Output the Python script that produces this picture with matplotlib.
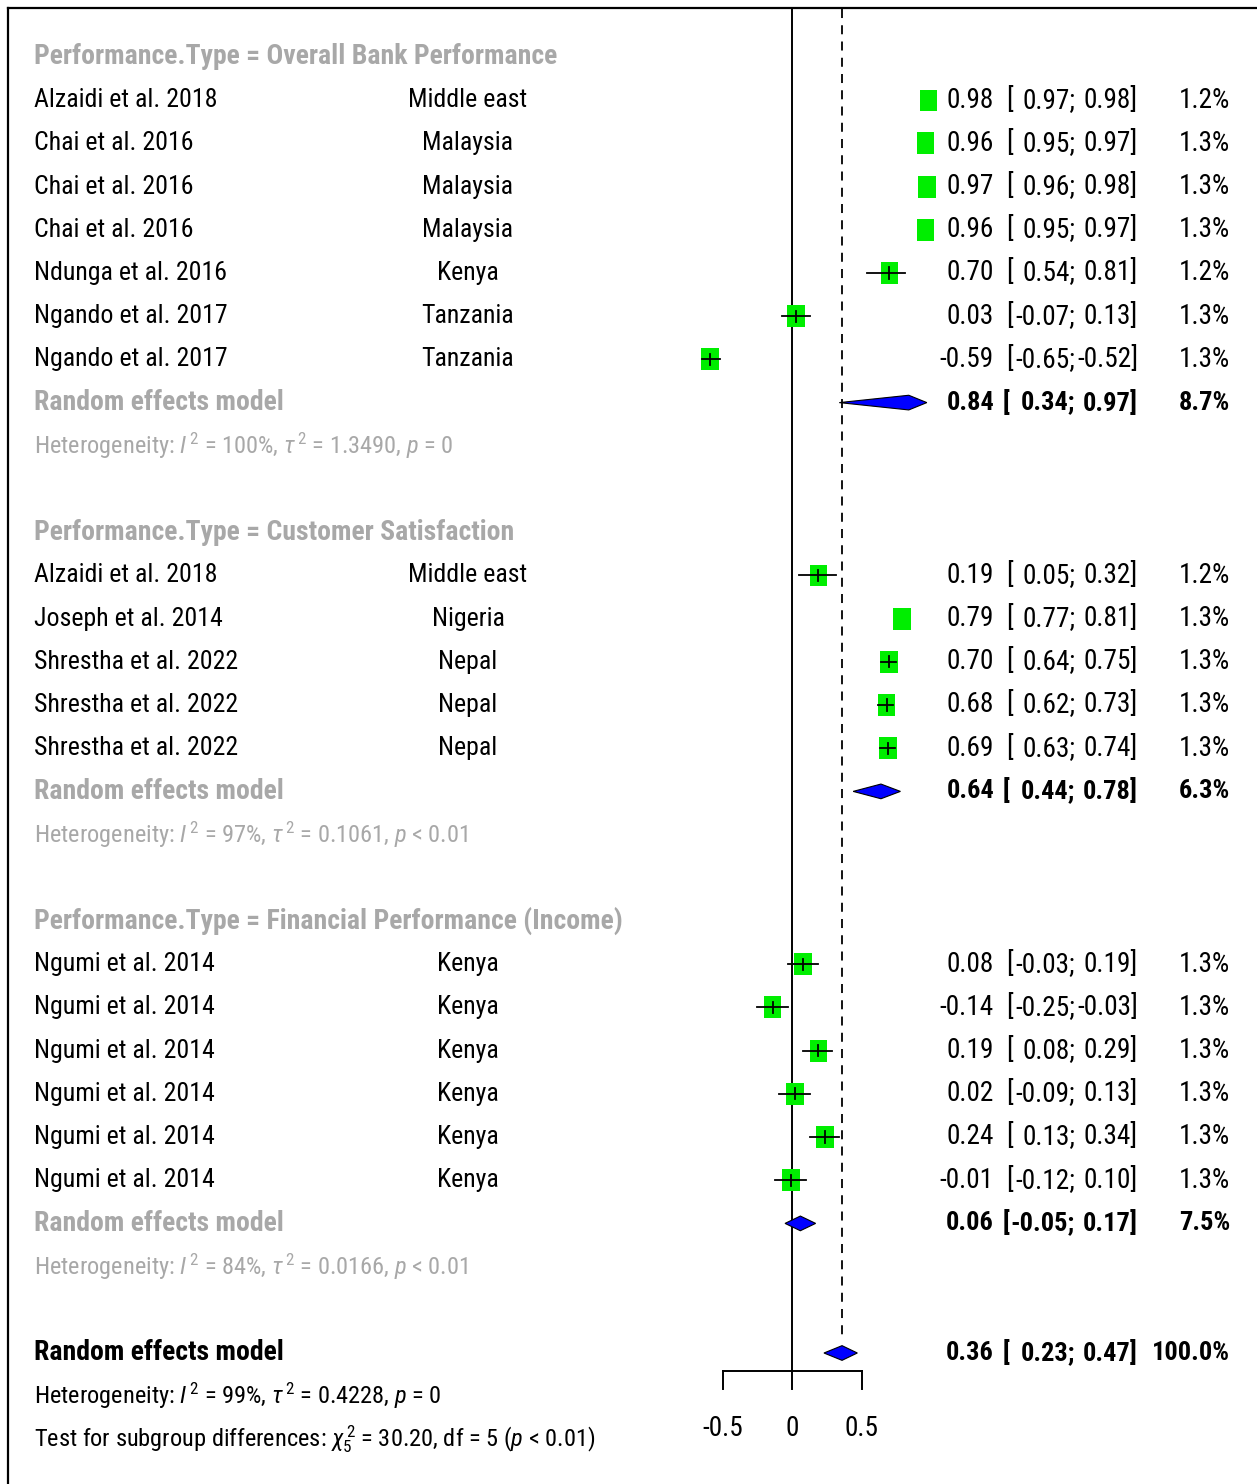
import matplotlib.pyplot as plt
import matplotlib.transforms as mtransforms
from matplotlib import font_manager
from matplotlib.patches import Rectangle, Polygon

# narrow sans for the table text, first one available wins
available = {f.name for f in font_manager.fontManager.ttflist}
narrow = next((f for f in ['Roboto Condensed', 'Archivo Narrow', 'PT Sans Narrow',
                           'Liberation Sans Narrow', 'Liberation Sans'] if f in available), 'DejaVu Sans')
plt.rcParams['font.family'] = [narrow, 'DejaVu Sans']
plt.rcParams['mathtext.fontset'] = 'custom'
plt.rcParams['mathtext.rm'] = narrow
plt.rcParams['mathtext.it'] = narrow + ':italic'
plt.rcParams['mathtext.bf'] = narrow + ':bold'

# subgroup 1: overall bank performance
g1_study = ['Alzaidi et al. 2018', 'Chai et al. 2016', 'Chai et al. 2016', 'Chai et al. 2016',
            'Ndunga et al. 2016', 'Ngando et al. 2017', 'Ngando et al. 2017']
g1_country = ['Middle east', 'Malaysia', 'Malaysia', 'Malaysia', 'Kenya', 'Tanzania', 'Tanzania']
g1_est = [0.98, 0.96, 0.97, 0.96, 0.70, 0.03, -0.59]
g1_lo = [0.97, 0.95, 0.96, 0.95, 0.54, -0.07, -0.65]
g1_hi = [0.98, 0.97, 0.98, 0.97, 0.81, 0.13, -0.52]
g1_w = [1.2, 1.3, 1.3, 1.3, 1.2, 1.3, 1.3]

# subgroup 2: customer satisfaction
g2_study = ['Alzaidi et al. 2018', 'Joseph et al. 2014', 'Shrestha et al. 2022',
            'Shrestha et al. 2022', 'Shrestha et al. 2022']
g2_country = ['Middle east', 'Nigeria', 'Nepal', 'Nepal', 'Nepal']
g2_est = [0.19, 0.79, 0.70, 0.68, 0.69]
g2_lo = [0.05, 0.77, 0.64, 0.62, 0.63]
g2_hi = [0.32, 0.81, 0.75, 0.73, 0.74]
g2_w = [1.2, 1.3, 1.3, 1.3, 1.3]

# subgroup 3: financial performance (income)
g3_study = ['Ngumi et al. 2014'] * 6
g3_country = ['Kenya'] * 6
g3_est = [0.08, -0.14, 0.19, 0.02, 0.24, -0.01]
g3_lo = [-0.03, -0.25, 0.08, -0.09, 0.13, -0.12]
g3_hi = [0.19, -0.03, 0.29, 0.13, 0.34, 0.10]
g3_w = [1.3, 1.3, 1.3, 1.3, 1.3, 1.3]

group_names = ['Overall Bank Performance', 'Customer Satisfaction', 'Financial Performance (Income)']
re_est = [0.84, 0.64, 0.06]
re_lo = [0.34, 0.44, -0.05]
re_hi = [0.97, 0.78, 0.17]
re_w = [8.7, 6.3, 7.5]
het_i2 = ['100%', '97%', '84%']
het_tau2 = ['1.3490', '0.1061', '0.0166']
het_p = ['= 0', '< 0.01', '< 0.01']

overall_est, overall_lo, overall_hi, overall_w = 0.36, 0.23, 0.47, 100.0
overall_het = ('99%', '0.4228', '= 0')
subgroup_test = ('30.20', '5', '< 0.01')
x_ticks = [-0.5, 0, 0.5]

groups = [
    (g1_study, g1_country, g1_est, g1_lo, g1_hi, g1_w),
    (g2_study, g2_country, g2_est, g2_lo, g2_hi, g2_w),
    (g3_study, g3_country, g3_est, g3_lo, g3_hi, g3_w),
]

W, H = 1257, 1484
fig = plt.figure(figsize=(W / 100, H / 100), dpi=100)
ax = fig.add_axes([0, 0, 1, 1])
# effect scale: 0 at x=792 px, 139 px per unit; rows 43.2 px apart starting at y=57 px
x0, scale = 792, 139
y0, step = 57, 43.2
ax.set_xlim(-x0 / scale, (W - x0) / scale)
ax.set_ylim((H - y0) / step, -y0 / step)
ax.axis('off')

tr = mtransforms.blended_transform_factory(ax.transAxes, ax.transData)
GREY = '#a8a8a8'
FS_NAME = 18.6   # study / country labels
FS_NUM = 19.6    # estimate, CI and weight columns
FS_BOLD = 20     # subgroup headings and pooled labels
FS_SMALL = 17.6  # heterogeneity lines


def col(px):
    return px / W


def fmt(v):
    return f'{v:.2f}'


def row_text(y, name, country, est, lo, hi, w, weight='normal'):
    kw = dict(transform=tr, va='center', color='black', fontweight=weight)
    fs = FS_NUM if weight == 'normal' else FS_NUM - 0.6
    bracket_x = 1006 if weight == 'normal' else 1003
    if name:
        ax.text(col(34), y, name, ha='left', fontsize=FS_NAME, **kw)
    if country:
        ax.text(col(468), y, country, ha='center', fontsize=FS_NAME, **kw)
    ax.text(col(994), y, fmt(est), ha='right', fontsize=fs, **kw)
    ax.text(col(bracket_x), y, '[', ha='left', fontsize=fs, **kw)
    ax.text(col(1075), y, fmt(lo) + ';', ha='right', fontsize=fs, **kw)
    ax.text(col(1138), y, fmt(hi) + ']', ha='right', fontsize=fs, **kw)
    ax.text(col(1230), y, f'{w:.1f}%', ha='right', fontsize=fs, **kw)


def diamond(y, est, lo, hi):
    h = 0.17
    ax.add_patch(Polygon([(lo, y), (est, y - h), (hi, y), (est, y + h)],
                         closed=True, facecolor='blue', edgecolor='black', lw=0.8, zorder=4))


def het_text(y, i2, tau2, p, color):
    s = (r'Heterogeneity: $\mathit{I}^{\,2}$ = ' + i2 + r', $\tau^{\,2}$ = ' + tau2
         + r', $\mathit{p}$ ' + p)
    ax.text(col(34), y, s, transform=tr, ha='left', va='center', fontsize=FS_SMALL, color=color)


y = 0
for gi, (study, country, est, lo, hi, w) in enumerate(groups):
    ax.text(col(34), y, 'Performance.Type = ' + group_names[gi], transform=tr, ha='left',
            va='center', fontsize=FS_BOLD, color=GREY, fontweight='bold')
    y += 1
    for k in range(len(study)):
        row_text(y, study[k], country[k], est[k], lo[k], hi[k], w[k])
        sw = 0.128 * (w[k] / 1.3) ** 0.5
        sh = 0.51 * (w[k] / 1.3) ** 0.5
        ax.add_patch(Rectangle((est[k] - sw / 2, y - sh / 2), sw, sh,
                               facecolor='#00ee00', edgecolor='none', zorder=3))
        # CI whisker and centre tick only when the interval sticks out of the square
        if hi[k] - lo[k] > 0.05:
            ax.plot([lo[k], hi[k]], [y, y], color='black', lw=1.3, zorder=5)
            ax.plot([est[k], est[k]], [y - 0.13, y + 0.13], color='black', lw=1.3, zorder=5)
        y += 1
    ax.text(col(34), y, 'Random effects model', transform=tr, ha='left', va='center',
            fontsize=FS_BOLD, color=GREY, fontweight='bold')
    row_text(y, None, None, re_est[gi], re_lo[gi], re_hi[gi], re_w[gi], weight='bold')
    diamond(y, re_est[gi], re_lo[gi], re_hi[gi])
    y += 1
    het_text(y, het_i2[gi], het_tau2[gi], het_p[gi], GREY)
    y += 2

# overall pooled estimate
ax.text(col(34), y, 'Random effects model', transform=tr, ha='left', va='center',
        fontsize=FS_BOLD, color='black', fontweight='bold')
row_text(y, None, None, overall_est, overall_lo, overall_hi, overall_w, weight='bold')
diamond(y, overall_est, overall_lo, overall_hi)
het_text(y + 1, *overall_het, 'black')
ax.text(col(34), y + 2, r'Test for subgroup differences: $\chi^{\,2}_{' + subgroup_test[1] + '}$ = '
        + subgroup_test[0] + ', df = ' + subgroup_test[1] + r' ($\mathit{p}$ ' + subgroup_test[2] + ')',
        transform=tr, ha='left', va='center', fontsize=FS_SMALL, color='black')

# reference lines
top = -1.1
ax.plot([0, 0], [top, y + 0.42], color='black', lw=1.4, zorder=1)
ax.plot([overall_est, overall_est], [top, y - 0.4], color='black', lw=1.3, ls=(0, (5, 4)), zorder=1)

# x axis
ay = y + 0.42
ax.plot([x_ticks[0], x_ticks[-1]], [ay, ay], color='black', lw=1.4)
for t in x_ticks:
    ax.plot([t, t], [ay, ay + 0.42], color='black', lw=1.4)
    ax.text(t, ay + 1.32, f'{t:g}', ha='center', va='center', fontsize=FS_NUM, color='black')

# outer frame
ax.plot([col(8), col(8)], [0, 1 - 8 / H], transform=ax.transAxes, color='black', lw=1.6, clip_on=False)
ax.plot([col(8), 1], [1 - 8 / H, 1 - 8 / H], transform=ax.transAxes, color='black', lw=1.6, clip_on=False)

fig.savefig('out.png', dpi=100)
